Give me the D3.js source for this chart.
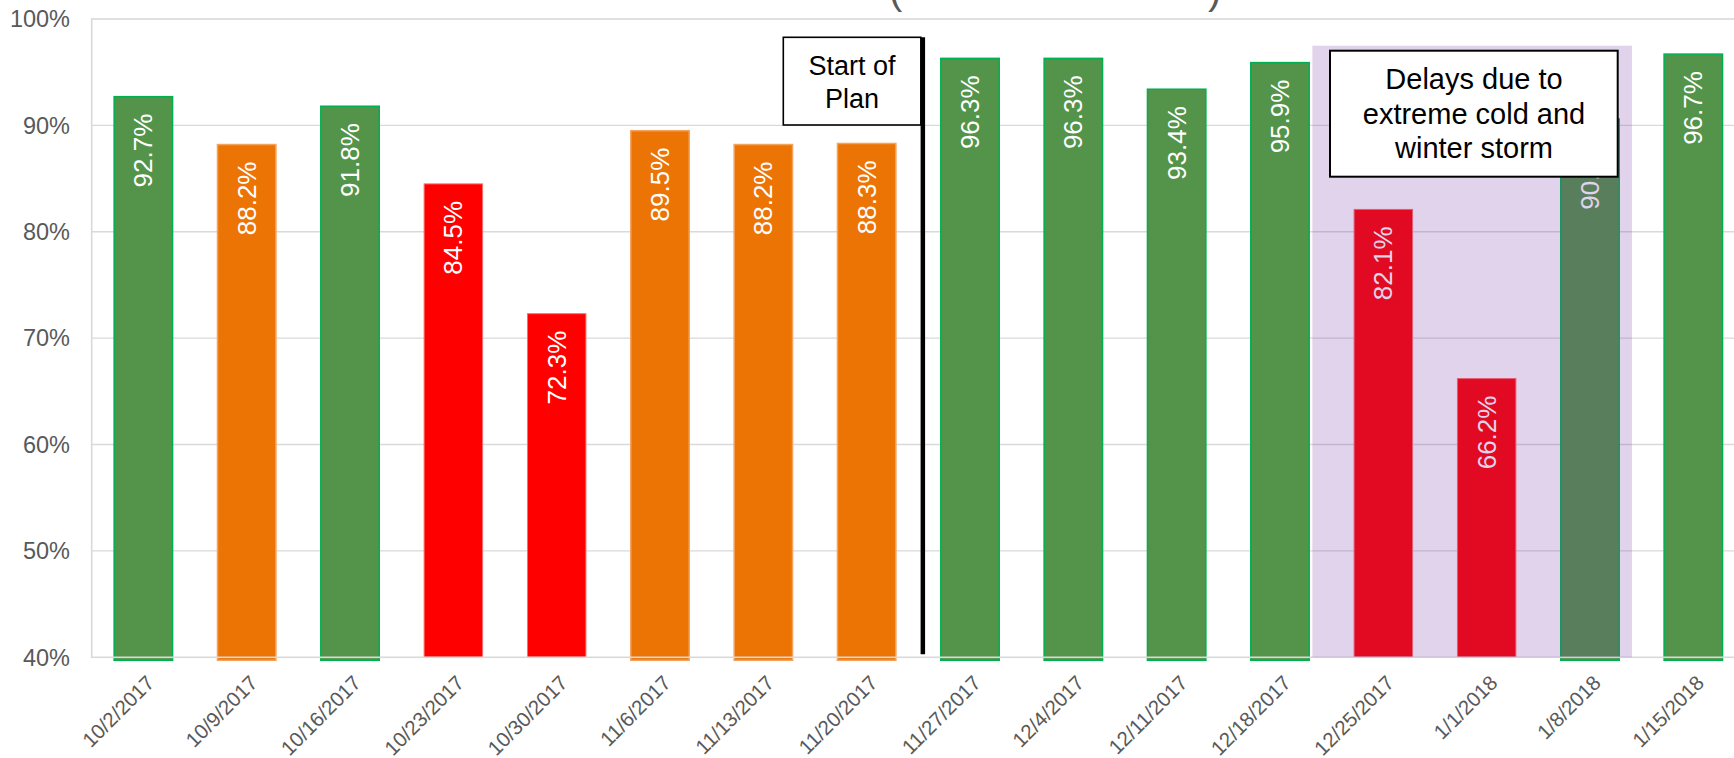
<!DOCTYPE html>
<html>
<head>
<meta charset="utf-8">
<script src="https://cdn.jsdelivr.net/npm/d3@7"></script>
<style>
  html, body { margin: 0; padding: 0; background: #fff; }
  svg { display: block; font-family: "Liberation Sans", Arial, sans-serif; }
</style>
</head>
<body>
<svg id="chart" width="1734" height="758"></svg>
<script>
// Weekly completion rate
const weeks = ["10/2/2017", "10/9/2017", "10/16/2017", "10/23/2017", "10/30/2017",
  "11/6/2017", "11/13/2017", "11/20/2017", "11/27/2017", "12/4/2017",
  "12/11/2017", "12/18/2017", "12/25/2017", "1/1/2018", "1/8/2018", "1/15/2018"];
const rates = [92.7, 88.2, 91.8, 84.5, 72.3, 89.5, 88.2, 88.3, 96.3, 96.3, 93.4, 95.9, 82.1, 66.2, 90.6, 96.7];
const yTicks = [40, 50, 60, 70, 80, 90, 100];
const thresholds = { green: 90, orange: 85 };
const planStartWeek = "11/27/2017";
const stormWeeks = ["12/25/2017", "1/1/2018", "1/8/2018"];
const planNote = ["Start of", "Plan"];
const stormNote = ["Delays due to", "extreme cold and", "winter storm"];

const svg = d3.select("#chart");

const plot = { left: 91.7, top: 19, bottom: 657.3 };
plot.right = plot.left + 16 * 103.33;

const x = d3.scaleBand().domain(weeks)
  .range([plot.left, plot.right])
  .paddingInner(0.42).paddingOuter(0.21);
const y = d3.scaleLinear().domain([40, 100]).range([plot.bottom, plot.top]);

const palette = {
  green: { fill: "#53944a", stroke: "#00b050" },
  orange: { fill: "#ec7405", stroke: "#f5a35c" },
  red: { fill: "#ff0000", stroke: "#ff6a6a" }
};
const status = v => v >= thresholds.green ? "green" : (v >= thresholds.orange ? "orange" : "red");
const data = weeks.map((w, i) => ({ week: w, value: rates[i], status: status(rates[i]) }));

// gridlines
svg.append("g").selectAll("line")
  .data(yTicks.filter(t => t > 40 && t < 100))
  .join("line")
  .attr("x1", plot.left).attr("x2", plot.right)
  .attr("y1", d => y(d)).attr("y2", d => y(d))
  .attr("stroke", "#d9d9d9").attr("stroke-width", 1.4);

// bars
const sw = 1.5;
svg.append("g").selectAll("rect")
  .data(data)
  .join("rect")
  .attr("x", d => x(d.week) + sw / 2)
  .attr("width", x.bandwidth() - sw)
  .attr("y", d => y(d.value))
  .attr("height", d => y(40) - y(d.value) + (d.status === "red" ? 0 : 3))
  .attr("fill", d => palette[d.status].fill)
  .attr("stroke", d => palette[d.status].stroke)
  .attr("stroke-width", d => d.status === "red" ? 1 : sw);

// value labels, rotated inside the top of each bar
svg.append("g").selectAll("text")
  .data(data)
  .join("text")
  .attr("transform", d => `translate(${x(d.week) + x.bandwidth() / 2},${y(d.value) + 17}) rotate(-90)`)
  .attr("text-anchor", "end")
  .attr("dy", "0.35em")
  .attr("fill", "#ffffff")
  .attr("font-size", 26)
  .text(d => d.value.toFixed(1) + "%");

// plot frame
svg.append("rect")
  .attr("x", plot.left).attr("y", plot.top)
  .attr("width", plot.right - plot.left).attr("height", plot.bottom - plot.top)
  .attr("fill", "none").attr("stroke", "#d9d9d9").attr("stroke-width", 1.6);

// y axis labels
svg.append("g").selectAll("text")
  .data(yTicks)
  .join("text")
  .attr("x", 70).attr("y", d => y(d))
  .attr("dy", "0.35em")
  .attr("text-anchor", "end")
  .attr("fill", "#595959")
  .attr("font-size", 23.5)
  .text(d => d + "%");

// x axis labels
svg.append("g").selectAll("text")
  .data(weeks)
  .join("text")
  .attr("transform", d => `translate(${x(d) + x.bandwidth() / 2 + 7},${679}) rotate(-45)`)
  .attr("text-anchor", "end")
  .attr("dy", "0.35em")
  .attr("fill", "#595959")
  .attr("font-size", 20.5)
  .text(d => d);

// storm period highlight
const s0 = x(stormWeeks[0]), s1 = x(stormWeeks[stormWeeks.length - 1]) + x.bandwidth();
svg.append("rect")
  .attr("x", s0 - 41).attr("y", 45.7)
  .attr("width", (s1 + 12) - (s0 - 41)).attr("height", plot.bottom - 45.7)
  .attr("fill", "#7030a0").attr("fill-opacity", 0.21);

// plan start marker
const px = x(planStartWeek) - x.step() * 0.21 + 4.5;
svg.append("line")
  .attr("x1", px).attr("x2", px)
  .attr("y1", 37.3).attr("y2", 654.3)
  .attr("stroke", "#000").attr("stroke-width", 4.5);
svg.append("rect")
  .attr("x", 783.3).attr("y", 37.3)
  .attr("width", px - 2 - 783.3).attr("height", 125 - 37.3)
  .attr("fill", "#fff").attr("stroke", "#000").attr("stroke-width", 1.6);
svg.append("g").selectAll("text")
  .data(planNote)
  .join("text")
  .attr("x", (783.3 + px - 2) / 2)
  .attr("y", (d, i) => 75 + i * 33.3)
  .attr("text-anchor", "middle")
  .attr("fill", "#000")
  .attr("font-size", 27)
  .text(d => d);

// storm note
svg.append("rect")
  .attr("x", 1330).attr("y", 50.7)
  .attr("width", 1617.7 - 1330).attr("height", 176.7 - 50.7)
  .attr("fill", "#fff").attr("stroke", "#000").attr("stroke-width", 2);
svg.append("g").selectAll("text")
  .data(stormNote)
  .join("text")
  .attr("x", 1474)
  .attr("y", (d, i) => 89.3 + i * 34.5)
  .attr("text-anchor", "middle")
  .attr("fill", "#000")
  .attr("font-size", 29)
  .text(d => d);

// title (only the lower edge of its brackets falls inside the frame)
svg.append("g").selectAll("text")
  .data([{ t: "(", x: 889 }, { t: ")", x: 1208 }])
  .join("text")
  .attr("x", d => d.x).attr("y", 3.5)
  .attr("fill", "#595959")
  .attr("font-size", 40)
  .text(d => d.t);
</script>
</body>
</html>
